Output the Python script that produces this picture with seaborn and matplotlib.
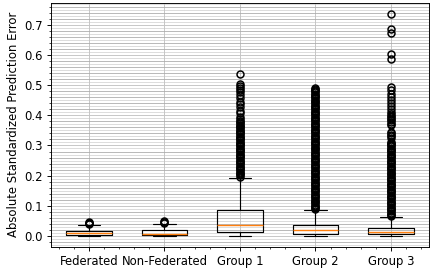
import numpy as np
import matplotlib
matplotlib.use("Agg")
import matplotlib.pyplot as plt
import seaborn as sns
from matplotlib.ticker import MultipleLocator, AutoMinorLocator

# box statistics
labels = ["Federated", "Non-Federated", "Group 1", "Group 2", "Group 3"]
q1 = [0.003, 0.002, 0.013, 0.0066, 0.0055]
med = [0.009, 0.0075, 0.037, 0.019, 0.014]
q3 = [0.0175, 0.020, 0.0845, 0.037, 0.027]
whis_lo = [0.0, 0.0, 0.0, 0.0, 0.0]
whis_hi = [0.035, 0.0405, 0.192, 0.085, 0.0625]

# outliers (the solid bands are dense runs of thousands of points)
fed_fliers = [0.038, 0.041, 0.044, 0.046]
nonfed_fliers = [0.043, 0.046, 0.049]
g1_fliers = [0.536, 0.503, 0.497, 0.491, 0.485, 0.478, 0.468, 0.458, 0.445, 0.437,
             0.428, 0.416, 0.408, 0.396, 0.388, 0.381,
             0.377, 0.373, 0.369, 0.365, 0.361, 0.357, 0.353, 0.349, 0.345, 0.341,
             0.337, 0.333, 0.329, 0.325, 0.321, 0.317, 0.313, 0.309, 0.305, 0.301,
             0.297, 0.293, 0.289, 0.285, 0.281, 0.277, 0.273, 0.269, 0.265, 0.261,
             0.257, 0.253, 0.249, 0.245, 0.241, 0.237, 0.233, 0.229, 0.225, 0.221,
             0.217, 0.213, 0.209, 0.205, 0.201, 0.197]
g2_fliers = [0.088, 0.092, 0.096, 0.100, 0.104, 0.108, 0.112, 0.116, 0.120, 0.124,
             0.128, 0.132, 0.136, 0.140, 0.144, 0.148, 0.152, 0.156, 0.160, 0.164,
             0.168, 0.172, 0.176, 0.180, 0.184, 0.188, 0.192, 0.196, 0.200, 0.204,
             0.208, 0.212, 0.216, 0.220, 0.224, 0.228, 0.232, 0.236, 0.240, 0.244,
             0.248, 0.252, 0.256, 0.260, 0.264, 0.268, 0.272, 0.276, 0.280, 0.284,
             0.288, 0.292, 0.296, 0.300, 0.304, 0.308, 0.312, 0.316, 0.320, 0.324,
             0.328, 0.332, 0.336, 0.340, 0.344, 0.348, 0.352, 0.356, 0.360, 0.364,
             0.368, 0.372, 0.376, 0.380, 0.384, 0.388, 0.392, 0.396, 0.400, 0.404,
             0.408, 0.412, 0.416, 0.420, 0.424, 0.428, 0.432, 0.436, 0.440, 0.444,
             0.448, 0.452, 0.456, 0.460, 0.464, 0.468, 0.472, 0.476, 0.480, 0.484,
             0.488, 0.492]
g3_fliers = [0.737, 0.688, 0.673, 0.604, 0.586, 0.494, 0.483, 0.472, 0.462, 0.452,
             0.442, 0.431, 0.421, 0.410, 0.403, 0.398, 0.393, 0.388, 0.383, 0.378,
             0.372, 0.368, 0.346, 0.340, 0.335, 0.330, 0.325,
             0.313, 0.309, 0.305, 0.301, 0.297, 0.293, 0.289, 0.285, 0.281, 0.277,
             0.273, 0.269, 0.265, 0.261, 0.257, 0.253, 0.249, 0.245, 0.241, 0.237,
             0.233, 0.229, 0.225, 0.221, 0.217, 0.213, 0.209, 0.205, 0.201, 0.197,
             0.193, 0.189, 0.185, 0.181, 0.177, 0.173, 0.169, 0.165, 0.161, 0.157,
             0.153, 0.149, 0.145, 0.141, 0.137, 0.133, 0.129, 0.125, 0.121, 0.117,
             0.113, 0.109, 0.105, 0.101, 0.097, 0.093, 0.089, 0.085, 0.081, 0.077,
             0.073, 0.069, 0.065]
fliers = [fed_fliers, nonfed_fliers, g1_fliers, g2_fliers, g3_fliers]

sns.set_theme(style="ticks", rc={
    "font.size": 10,
    "axes.labelsize": 10,
    "xtick.labelsize": 10,
    "ytick.labelsize": 10,
    "axes.edgecolor": "black",
    "axes.linewidth": 0.8,
    "text.color": "black",
    "axes.labelcolor": "black",
    "xtick.color": "black",
    "ytick.color": "black",
})
plt.rcParams["font.family"] = ["DejaVu Sans"]

DPI = 83.33


def main():
    stats = []
    for i, lab in enumerate(labels):
        stats.append({
            "label": lab,
            "q1": q1[i], "med": med[i], "q3": q3[i],
            "whislo": whis_lo[i], "whishi": whis_hi[i],
            "fliers": fliers[i],
        })

    fig, ax = plt.subplots(figsize=(430 / DPI, 275 / DPI), dpi=DPI)
    fig.subplots_adjust(left=0.119, right=0.997, top=0.99, bottom=0.102)

    ax.bxp(stats, widths=0.6, showfliers=True,
           boxprops=dict(color="black", linewidth=1.0),
           whiskerprops=dict(color="black", linewidth=1.0),
           capprops=dict(color="black", linewidth=1.0),
           medianprops=dict(color="#ff7f0e", linewidth=1.2),
           flierprops=dict(marker="o", markerfacecolor="none",
                           markeredgecolor="black", markersize=6,
                           markeredgewidth=1.3))

    ax.set_ylabel("Absolute Standardized Prediction Error")
    ax.yaxis.set_major_locator(MultipleLocator(0.1))
    ax.yaxis.set_minor_locator(AutoMinorLocator())
    ax.xaxis.set_minor_locator(AutoMinorLocator())
    ax.tick_params(which="major", length=3.5, width=0.8)
    ax.tick_params(which="minor", length=2, width=0.6)

    ax.set_axisbelow(True)
    ax.grid(which="major", axis="both", color="#c4c4c4", linewidth=0.8)
    ax.grid(which="minor", axis="y", color="#ababab", linewidth=0.7)
    # lighter lines between the minor ticks
    minor = ax.yaxis.get_minorticklocs()
    majors = ax.yaxis.get_majorticklocs()
    locs = np.sort(np.concatenate([minor, majors]))
    lo, hi = ax.get_ylim()
    for y in (locs[:-1] + locs[1:]) / 2:
        if lo < y < hi:
            ax.axhline(y, color="#d6d6d6", linewidth=0.7, zorder=0)

    fig.savefig("out.png", dpi=DPI)
    plt.close(fig)


if __name__ == "__main__":
    main()
